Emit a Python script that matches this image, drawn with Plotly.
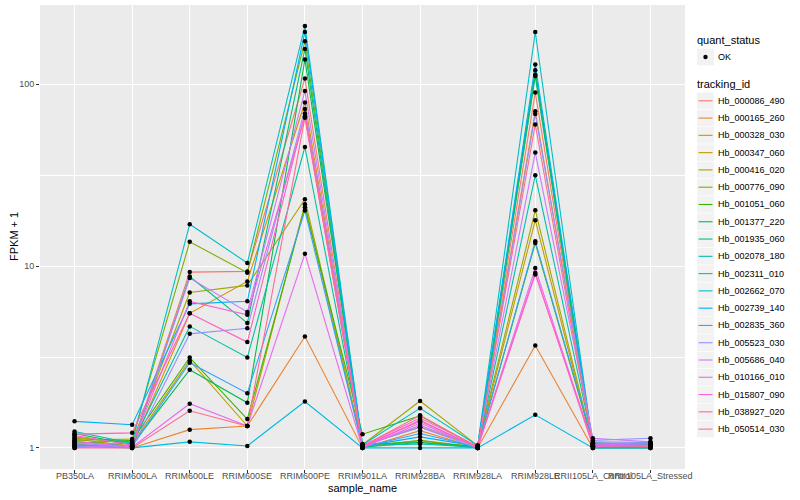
import math
import plotly.graph_objects as go

sample_names = ["PB350LA", "RRIM600LA", "RRIM600LE", "RRIM600SE", "RRIM600PE",
                "RRIM901LA", "RRIM928BA", "RRIM928LA", "RRIM928LE",
                "RRII105LA_Control", "RRII105LA_Stressed"]

tracking_ids = ["Hb_000086_490", "Hb_000165_260", "Hb_000328_030", "Hb_000347_060",
                "Hb_000416_020", "Hb_000776_090", "Hb_001051_060", "Hb_001377_220",
                "Hb_001935_060", "Hb_002078_180", "Hb_002311_010", "Hb_002662_070",
                "Hb_002739_140", "Hb_002835_360", "Hb_005523_030", "Hb_005686_040",
                "Hb_010166_010", "Hb_015807_090", "Hb_038927_020", "Hb_050514_030"]

colors = ["#F8766D", "#EA8331", "#D89000", "#C09B00", "#A3A500", "#7CAE00", "#39B600",
          "#00BB4E", "#00BF7D", "#00C1A3", "#00BFC4", "#00BAE0", "#00B0F6", "#35A2FF",
          "#9590FF", "#C77CFF", "#E76BF3", "#FA62DB", "#FF62BC", "#FF6C91"]

quant_status = ["OK"]

# FPKM + 1 per sample, one value per tracking_id (same order as tracking_ids)
PB350LA   = [1.08, 1.05, 1.12, 1.15, 1.13, 1.10, 1.06, 1.20, 1.03, 1.23,
             1.00, 1.02, 1.40, 1.04, 1.07, 1.01, 1.09, 1.17, 1.19, 1.00]
RRIM600LA = [1.03, 1.00, 1.02, 1.05, 1.08, 1.12, 1.10, 1.04, 1.01, 1.06,
             1.07, 1.00, 1.34, 1.02, 1.00, 1.03, 1.01, 1.04, 1.21, 1.00]
RRIM600LE = [9.27, 1.26, 5.5, 3.03, 7.16, 13.6, 3.14, 2.69, 8.77, 4.66,
             17.0, 1.08, 6.2, 2.94, 4.24, 8.6, 1.75, 6.4, 5.5, 1.60]
RRIM600SE = [9.35, 1.32, 8.24, 1.32, 7.83, 9.2, 1.44, 1.77, 4.86, 3.14,
             10.4, 1.025, 6.4, 2.0, 4.55, 5.6, 1.32, 5.4, 3.82, 1.32]
RRIM600PE = [107.6, 4.1, 79.4, 21.9, 23.3, 172.7, 21.1, 136.9, 156.6, 45.2,
             209.0, 1.8, 194.0, 20.2, 73.2, 91.9, 11.7, 66.7, 69.0, 65.5]
RRIM901LA = [1.02, 1.00, 1.03, 1.01, 1.04, 1.02, 1.19, 1.05, 1.01, 1.03,
             1.04, 1.00, 1.02, 1.01, 1.03, 1.02, 1.00, 1.01, 1.03, 1.02]
RRIM928BA = [1.40, 1.245, 1.30, 1.10, 1.81, 1.097, 1.50, 1.07, 1.07, 1.05,
             1.65, 1.00, 1.15, 1.20, 1.30, 1.33, 1.37, 1.42, 1.46, 1.51]
RRIM928LA = [1.01, 1.00, 1.02, 1.01, 1.03, 1.00, 1.01, 1.02, 1.00, 1.01,
             1.03, 1.00, 1.02, 1.01, 1.00, 1.02, 1.01, 1.00, 1.02, 1.01]
RRIM928LE = [90.1, 3.66, 71.1, 17.9, 20.3, 113.0, 13.4, 119.6, 111.0, 31.6,
             194.0, 1.52, 128.5, 13.7, 68.6, 42.1, 9.75, 9.2, 9.0, 60.1]
RRII105LA_Control  = [1.03, 1.00, 1.05, 1.02, 1.04, 1.01, 1.06, 1.03, 1.00, 1.07,
                      1.02, 1.00, 1.05, 1.08, 1.10, 1.13, 1.04, 1.02, 1.06, 1.03]
RRII105LA_Stressed = [1.04, 1.00, 1.03, 1.02, 1.05, 1.01, 1.02, 1.06, 1.00, 1.03,
                      1.02, 1.00, 1.04, 1.07, 1.13, 1.08, 1.05, 1.03, 1.06, 1.02]

columns = [PB350LA, RRIM600LA, RRIM600LE, RRIM600SE, RRIM600PE, RRIM901LA,
           RRIM928BA, RRIM928LA, RRIM928LE, RRII105LA_Control, RRII105LA_Stressed]

W, H = 800, 500
ML, MR, MT, MB = 40, 115, 5, 31
PW, PH = W - ML - MR, H - MT - MB


def px2x(px):
    return (px - ML) / PW


def px2y(py):
    return (H - MB - py) / PH


fig = go.Figure()

for i, tid in enumerate(tracking_ids):
    ys = [col[i] for col in columns]
    fig.add_trace(go.Scatter(
        x=sample_names, y=ys, mode="lines", name=tid,
        line=dict(color=colors[i], width=1.1),
        showlegend=False, hoverinfo="skip"))

px_all, py_all = [], []
for j, s in enumerate(sample_names):
    for v in columns[j]:
        px_all.append(s)
        py_all.append(v)
fig.add_trace(go.Scatter(
    x=px_all, y=py_all, mode="markers", name=quant_status[0],
    marker=dict(color="black", size=4.5, symbol="circle"),
    showlegend=False))

allv = [v for col in columns for v in col]
lo, hi = math.log10(min(allv)), math.log10(max(allv))
pad = (hi - lo) * 0.05

# ---- manual ggplot-style legend, x tick labels and axis titles ----
shapes, annots = [], []
key_l, key_r = 697, 714
text_x = 716
font_fam = "Liberation Sans, Arial, sans-serif"

for s in sample_names:
    annots.append(dict(x=s, xref="x", y=px2y(476.5), yref="paper", text=s,
                       showarrow=False, xanchor="center", yanchor="middle",
                       font=dict(size=9, color="#4D4D4D", family=font_fam)))

annots.append(dict(x=px2x(ML + PW / 2), y=px2y(488), xref="paper", yref="paper",
                   text="sample_name", showarrow=False, xanchor="center",
                   yanchor="middle", font=dict(size=11, color="black", family=font_fam)))
annots.append(dict(x=px2x(14), y=px2y(MT + PH / 2), xref="paper", yref="paper",
                   text="FPKM + 1", showarrow=False, xanchor="center", textangle=-90,
                   yanchor="middle", font=dict(size=11, color="black", family=font_fam)))

annots.append(dict(x=px2x(695), y=px2y(40.5), xref="paper", yref="paper",
                   text="quant_status", showarrow=False, xanchor="left",
                   yanchor="middle", font=dict(size=11, color="black", family=font_fam)))
cy = 57
shapes.append(dict(type="rect", xref="paper", yref="paper",
                   x0=px2x(key_l), x1=px2x(key_r), y0=px2y(cy - 8.3), y1=px2y(cy + 8.3),
                   fillcolor="#F2F2F2", line=dict(width=0)))
kc = (key_l + key_r) / 2
shapes.append(dict(type="circle", xref="paper", yref="paper",
                   x0=px2x(kc - 2.2), x1=px2x(kc + 2.2), y0=px2y(cy - 2.2), y1=px2y(cy + 2.2),
                   fillcolor="black", line=dict(width=0)))
annots.append(dict(x=px2x(text_x), y=px2y(cy), xref="paper", yref="paper",
                   text=quant_status[0], showarrow=False, xanchor="left", yanchor="middle",
                   font=dict(size=9, color="black", family=font_fam)))

annots.append(dict(x=px2x(695), y=px2y(84), xref="paper", yref="paper",
                   text="tracking_id", showarrow=False, xanchor="left",
                   yanchor="middle", font=dict(size=11, color="black", family=font_fam)))
y0 = 100.8
step = 17.28
for i, tid in enumerate(tracking_ids):
    cy = y0 + i * step
    shapes.append(dict(type="rect", xref="paper", yref="paper",
                       x0=px2x(key_l), x1=px2x(key_r),
                       y0=px2y(cy - 8.3), y1=px2y(cy + 8.3),
                       fillcolor="#F2F2F2", line=dict(width=0)))
    shapes.append(dict(type="line", xref="paper", yref="paper",
                       x0=px2x(key_l + 1.5), x1=px2x(key_r - 1.5),
                       y0=px2y(cy), y1=px2y(cy),
                       line=dict(color=colors[i], width=1.1)))
    annots.append(dict(x=px2x(text_x), y=px2y(cy), xref="paper", yref="paper",
                       text=tid, showarrow=False, xanchor="left", yanchor="middle",
                       font=dict(size=9, color="black", family=font_fam)))

fig.update_layout(
    width=W, height=H,
    margin=dict(l=ML, r=MR, t=MT, b=MB, autoexpand=False),
    paper_bgcolor="white", plot_bgcolor="#EBEBEB",
    font=dict(family=font_fam, size=9, color="black"),
    showlegend=False,
    shapes=shapes, annotations=annots,
    xaxis=dict(
        type="category", categoryorder="array", categoryarray=sample_names,
        range=[-0.6, len(sample_names) - 0.4], automargin=False,
        showgrid=True, gridcolor="white", gridwidth=1.1,
        ticks="outside", ticklen=3, tickcolor="#333333",
        showticklabels=False,
        zeroline=False, showline=False),
    yaxis=dict(
        type="log", range=[lo - pad, hi + pad], automargin=False,
        tickvals=[1, 10, 100], ticktext=["1", "10", "100"],
        showgrid=True, gridcolor="white", gridwidth=1.1,
        minor=dict(tickvals=[10 ** 0.5, 10 ** 1.5], showgrid=True,
                   gridcolor="white", gridwidth=0.5, ticks=""),
        ticks="outside", ticklen=3, tickcolor="#333333",
        tickfont=dict(size=9, color="#4D4D4D"),
        zeroline=False, showline=False),
)

fig.write_html("out.html", config={"displayModeBar": False},
               post_script="document.body.style.margin='0px';")
